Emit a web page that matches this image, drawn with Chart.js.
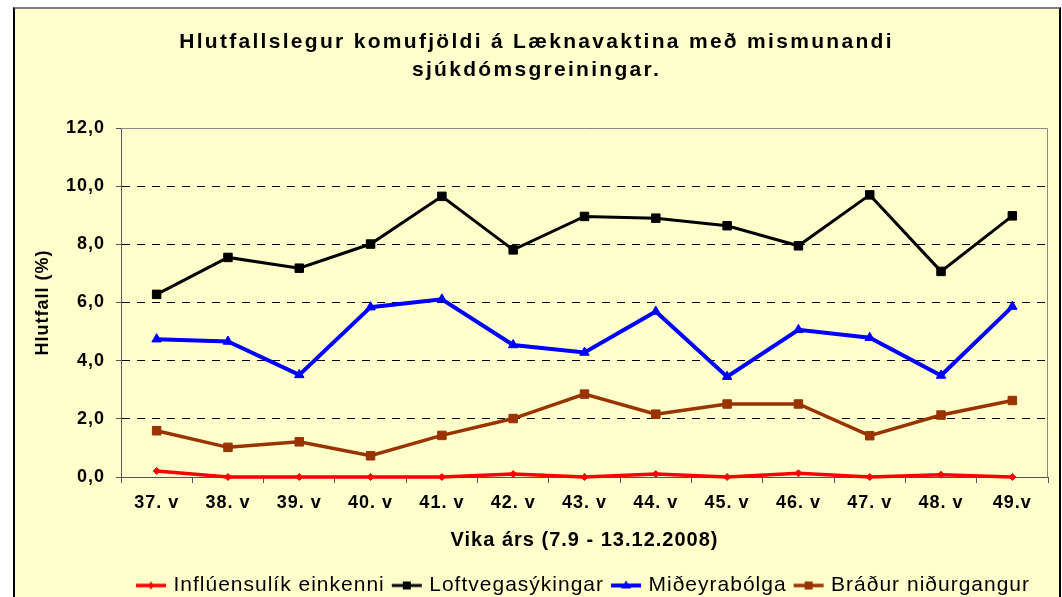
<!DOCTYPE html>
<html>
<head>
<meta charset="utf-8">
<script src="https://cdn.jsdelivr.net/npm/chart.js@4/dist/chart.umd.min.js"></script>
<style>
  html, body { margin: 0; padding: 0; background: #fff; overflow: hidden; }
  #frame {
    position: absolute; left: 13px; top: 7px; width: 1044px; height: 600px;
    border-left: 2px solid #000; border-right: 2px solid #000; border-top: 2px solid #808080;
    background: #FFFFCC;
  }
  canvas { display: block; }
</style>
</head>
<body>
<div id="frame"><canvas id="chart" width="1044" height="597"></canvas></div>
<script>
const titleLines = ['Hlutfallslegur komufjöldi á Læknavaktina með mismunandi', 'sjúkdómsgreiningar.'];
const weeks = ['37. v', '38. v', '39. v', '40. v', '41. v', '42. v', '43. v', '44. v', '45. v', '46. v', '47. v', '48. v', '49.v'];
const influenza = [0.21, 0, 0, 0, 0, 0.1, 0, 0.1, 0, 0.13, 0, 0.08, 0];
const respiratory = [6.28, 7.55, 7.18, 8.01, 9.65, 7.81, 8.96, 8.9, 8.64, 7.95, 9.7, 7.07, 8.98];
const otitis = [4.74, 4.66, 3.51, 5.84, 6.11, 4.54, 4.28, 5.69, 3.45, 5.06, 4.79, 3.49, 5.86];
const diarrhoea = [1.59, 1.02, 1.21, 0.73, 1.43, 2.01, 2.85, 2.16, 2.51, 2.51, 1.42, 2.13, 2.63];
const yTicks = [0, 2, 4, 6, 8, 10, 12];

const FONT = '"Liberation Sans", Arial, sans-serif';
Chart.defaults.font.family = FONT;
Chart.defaults.color = '#000';

// small line+marker picture used as the legend symbol
function legendIcon(color, style, lw) {
  const c = document.createElement('canvas');
  c.width = 32; c.height = 14;
  const g = c.getContext('2d');
  g.strokeStyle = color; g.fillStyle = color; g.lineWidth = lw;
  g.beginPath(); g.moveTo(1, 7); g.lineTo(31, 7); g.stroke();
  g.beginPath();
  if (style === 'rect') g.rect(12, 3, 8, 8);
  else if (style === 'triangle') { g.moveTo(16, 2); g.lineTo(21, 10); g.lineTo(11, 10); g.closePath(); }
  else { g.moveTo(16, 3); g.lineTo(19, 7); g.lineTo(16, 11); g.lineTo(13, 7); g.closePath(); }
  g.fill();
  return c;
}

const spacing = {
  id: 'spacing',
  beforeUpdate(chart) { chart.ctx.letterSpacing = '1px'; },
  beforeDraw(chart) {
    chart.ctx.letterSpacing = '1px';
    const tb = chart.titleBlock;
    if (tb && !tb._spaced) {
      const d = tb.draw.bind(tb);
      tb.draw = function () {
        chart.ctx.save();
        chart.ctx.letterSpacing = '2.3px';
        d();
        chart.ctx.restore();
      };
      tb._spaced = true;
    }
  }
};

const plotFrame = {
  id: 'plotFrame',
  beforeDatasetsDraw(chart) {
    const { ctx, chartArea: a } = chart;
    ctx.save();
    ctx.strokeStyle = '#888';
    ctx.lineWidth = 1;
    ctx.beginPath();
    ctx.moveTo(a.left, a.top + 0.5);
    ctx.lineTo(a.right - 0.5, a.top + 0.5);
    ctx.lineTo(a.right - 0.5, a.bottom);
    ctx.stroke();
    ctx.restore();
  }
};

function series(label, data, color, style, radius, width) {
  return {
    label, data,
    borderColor: color, backgroundColor: color,
    borderWidth: width,
    pointStyle: style, pointRadius: radius, pointHoverRadius: radius,
    pointBorderWidth: 1, pointBorderColor: color, pointBackgroundColor: color,
    tension: 0, clip: false,
    icon: legendIcon(color, style, width)
  };
}

new Chart(document.getElementById('chart'), {
  type: 'line',
  data: {
    labels: weeks,
    datasets: [
      series('Inflúensulík einkenni', influenza, '#FF0000', 'rectRot', 3.5, 3.5),
      series('Loftvegasýkingar', respiratory, '#000000', 'rect', 6, 3),
      series('Miðeyrabólga', otitis, '#0000FF', 'triangle', 5.5, 4),
      series('Bráður niðurgangur', diarrhoea, '#993300', 'rect', 6, 3.5)
    ]
  },
  options: {
    responsive: false,
    animation: false,
    devicePixelRatio: 1,
    layout: { padding: { left: 10, right: 11, top: 5, bottom: 0 } },
    plugins: {
      title: {
        display: true,
        text: titleLines,
        color: '#000',
        font: { size: 21, weight: 'bold', lineHeight: 1.3334 },
        padding: { top: 14, bottom: 44 }
      },
      legend: {
        position: 'bottom',
        fullSize: false,
        labels: {
          usePointStyle: true,
          pointStyleWidth: 24,
          padding: 10,
          color: '#000',
          font: { size: 21 },
          generateLabels: (chart) => chart.data.datasets.map((ds, i) => ({
            text: ds.label,
            pointStyle: ds.icon,
            fillStyle: ds.borderColor,
            strokeStyle: ds.borderColor,
            lineWidth: 0,
            hidden: false,
            datasetIndex: i,
            fontColor: '#000'
          }))
        }
      },
      tooltip: { enabled: false }
    },
    scales: {
      x: {
        offset: true,
        grid: { offset: true, drawOnChartArea: false, tickLength: 6, tickColor: '#555', tickWidth: 1 },
        border: { color: '#555', width: 1 },
        ticks: { color: '#000', padding: 9, font: { size: 18, weight: 'bold' }, maxRotation: 0, autoSkip: false },
        title: {
          display: true,
          text: 'Vika árs (7.9 - 13.12.2008)',
          color: '#000',
          font: { size: 20, weight: 'bold', lineHeight: 1.2 },
          padding: { top: 0, bottom: 13 }
        },
        afterFit(scale) { scale.height = 88; }
      },
      y: {
        min: 0,
        max: 12,
        afterBuildTicks(scale) { scale.ticks = yTicks.map(v => ({ value: v })); },
        grid: {
          color: (c) => (c.tick && (c.tick.value === 0 || c.tick.value === 12)) ? 'rgba(0,0,0,0)' : '#000',
          lineWidth: 1,
          tickLength: 5,
          tickColor: '#555',
          tickBorderDash: []
        },
        border: { color: '#555', width: 1, dash: [8, 7] },
        ticks: {
          color: '#000',
          padding: 11,
          font: { size: 18, weight: 'bold' },
          callback: (v) => Number(v).toFixed(1).replace('.', ',')
        },
        title: {
          display: true,
          text: 'Hlutfall (%)',
          color: '#000',
          font: { size: 18, weight: 'bold', lineHeight: 1.2 },
          padding: { top: 7, bottom: 0 }
        },
        afterFit(scale) { scale.width = 96; }
      }
    }
  },
  plugins: [spacing, plotFrame]
});
</script>
</body>
</html>
